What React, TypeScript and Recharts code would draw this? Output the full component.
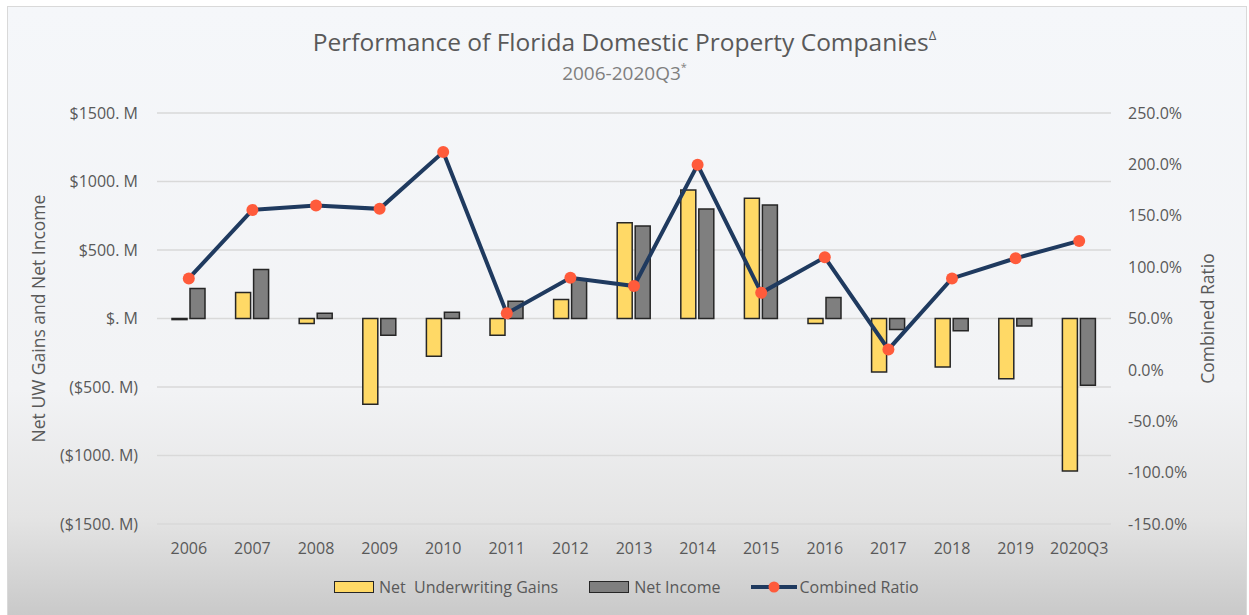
import { ComposedChart, Bar, Line, XAxis, YAxis, CartesianGrid } from 'recharts';

const years = ['2006', '2007', '2008', '2009', '2010', '2011', '2012', '2013', '2014', '2015', '2016', '2017', '2018', '2019', '2020Q3'];
// $ millions
const uwGains = [-8, 190, -37, -626, -276, -122, 139, 699, 938, 877, -37, -390, -354, -439, -1114];
const netIncome = [219, 358, 39, -122, 46, 126, 290, 675, 799, 828, 153, -80, -90, -54, -488];
// percent
const combinedRatio = [89, 155.7, 160, 156.7, 212, 55, 89.7, 81.6, 199.6, 75, 109.6, 19.9, 89, 108.6, 125.5];

const leftTicks = [-1500, -1000, -500, 0, 500, 1000, 1500];
const rightTicks = [-150, -100, -50, 0, 50, 100, 150, 200, 250];

const data = years.map((year, i) => ({
  year,
  uw: uwGains[i],
  ni: netIncome[i],
  cr: combinedRatio[i],
}));

const fmtMoney = (v: number) => {
  if (v === 0) return '$. M';
  if (v < 0) return `($${-v}. M)`;
  return `$${v}. M`;
};

const tickStyle = { fill: '#595959', fontSize: 16 };

export default function App() {
  return (
    <div style={{ position: 'absolute', left: 0, top: 0, width: 1249, height: 615, overflow: 'hidden', background: '#fff', fontFamily: '"Open Sans", sans-serif' }}>
      <div
        style={{
          position: 'absolute', left: 7, top: 6, width: 1240, height: 640,
          border: '1px solid #d9d9d9', boxSizing: 'border-box',
          background: 'linear-gradient(to bottom, #f5f7fa 0%, #f2f3f5 60%, #e4e4e4 80%, #c8c8c8 96%)',
        }}
      />
      <div style={{ position: 'absolute', left: 0, top: 26, width: 1249, textAlign: 'center', color: '#595959', fontSize: 24.5, lineHeight: '32px' }}>
        Performance of Florida Domestic Property Companies<sup style={{ fontSize: 13, verticalAlign: 'top', lineHeight: '18px' }}>Δ</sup>
      </div>
      <div style={{ position: 'absolute', left: 0, top: 60, width: 1249, textAlign: 'center', color: '#7f7f7f', fontSize: 19, lineHeight: '26px' }}>
        2006-2020Q3<sup style={{ fontSize: 11, verticalAlign: 'top', lineHeight: '14px' }}>*</sup>
      </div>

      <div style={{ position: 'absolute', left: 0, top: 0 }}>
        <ComposedChart width={1249} height={615} data={data} margin={{ top: 113, right: 0, bottom: 61, left: 0 }} barSize={15} barGap={3}>
          <CartesianGrid yAxisId="left" vertical={false} stroke="#d9d9d9" strokeWidth={1.5} />
          <XAxis dataKey="year" axisLine={false} tickLine={false} tickSize={0} tickMargin={19} height={30} tick={tickStyle} interval={0} />
          <YAxis
            yAxisId="left"
            orientation="left"
            width={157}
            domain={[-1500, 1500]}
            ticks={leftTicks}
            tickFormatter={fmtMoney}
            axisLine={false}
            tickLine={false}
            tickSize={0}
            tickMargin={19}
            tick={tickStyle}
            label={{ value: 'Net UW Gains and Net Income', angle: -90, position: 'insideLeft', offset: 39, style: { textAnchor: 'middle', fill: '#595959', fontSize: 17.5 } }}
          />
          <YAxis
            yAxisId="right"
            orientation="right"
            width={138}
            domain={[-150, 250]}
            ticks={rightTicks}
            tickFormatter={(v: number) => `${v.toFixed(1)}%`}
            axisLine={false}
            tickLine={false}
            tickSize={0}
            tickMargin={17}
            tick={tickStyle}
            label={{ value: 'Combined Ratio', angle: -90, position: 'insideRight', offset: 41, style: { textAnchor: 'middle', fill: '#595959', fontSize: 17.5 } }}
          />
          <Bar yAxisId="left" dataKey="uw" name="Net  Underwriting Gains" fill="#FFD966" stroke="#262626" strokeWidth={1.5} isAnimationActive={false} />
          <Bar yAxisId="left" dataKey="ni" name="Net Income" fill="#7F7F7F" stroke="#262626" strokeWidth={1.5} isAnimationActive={false} />
          <Line
            yAxisId="right"
            dataKey="cr"
            name="Combined Ratio"
            type="linear"
            stroke="#1F3A5F"
            strokeWidth={4}
            dot={{ r: 6, fill: '#FF5B3B', stroke: 'none' }}
            activeDot={false}
            isAnimationActive={false}
          />
        </ComposedChart>
      </div>

      <div style={{ position: 'absolute', left: 334, top: 576, display: 'flex', alignItems: 'center', gap: 31, color: '#595959', fontSize: 16, whiteSpace: 'pre' }}>
        <div style={{ display: 'flex', alignItems: 'center' }}>
          <span style={{ width: 38, height: 10, background: '#FFD966', border: '1.5px solid #262626', marginRight: 5 }} />
          <span>Net  Underwriting Gains</span>
        </div>
        <div style={{ display: 'flex', alignItems: 'center' }}>
          <span style={{ width: 38, height: 10, background: '#7F7F7F', border: '1.5px solid #262626', marginRight: 5 }} />
          <span>Net Income</span>
        </div>
        <div style={{ display: 'flex', alignItems: 'center' }}>
          <svg width={46} height={14} style={{ marginRight: 2 }}>
            <line x1={0} y1={7} x2={46} y2={7} stroke="#1F3A5F" strokeWidth={4} />
            <circle cx={23} cy={7} r={5.5} fill="#FF5B3B" />
          </svg>
          <span>Combined Ratio</span>
        </div>
      </div>
    </div>
  );
}
